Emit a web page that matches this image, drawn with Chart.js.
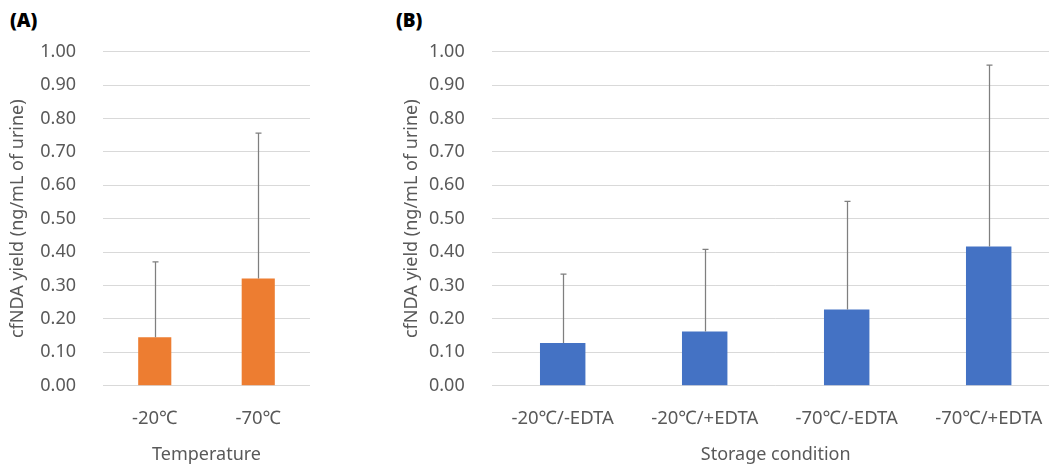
<!DOCTYPE html>
<html>
<head>
<meta charset="utf-8">
<script src="https://cdn.jsdelivr.net/npm/chart.js@4.4.1/dist/chart.umd.min.js"></script>
<style>
  html, body { margin: 0; padding: 0; background: #fff; width: 1049px; height: 465px; overflow: hidden; position: relative; }
  canvas { position: absolute; top: 0; }
  #cA { left: 0; }
  #cB { left: 380px; }
  .panel { position: absolute; top: 7px; font-family: 'Open Sans', 'Noto Sans', sans-serif; font-weight: 800; font-size: 19px; color: #000; }
</style>
</head>
<body>
<div class="panel" style="left:10px;">(A)</div>
<div class="panel" style="left:396px;">(B)</div>
<canvas id="cA" width="340" height="465"></canvas>
<canvas id="cB" width="700" height="465"></canvas>
<script>
// ---- Data ----
const categoriesA = ['-20℃', '-70℃'];
const meansA = [0.145, 0.321];
const sdA = [0.226, 0.435];

const categoriesB = ['-20℃/-EDTA', '-20℃/+EDTA', '-70℃/-EDTA', '-70℃/+EDTA'];
const meansB = [0.128, 0.162, 0.228, 0.417];
const sdB = [0.206, 0.246, 0.324, 0.543];

const yTicks = [0, 0.1, 0.2, 0.3, 0.4, 0.5, 0.6, 0.7, 0.8, 0.9, 1.0];

const yTitle = 'cfNDA yield (ng/mL of urine)';
const xTitleA = 'Temperature';
const xTitleB = 'Storage condition';

const FONT = "'Noto Sans', 'Noto Sans CJK KR', sans-serif";
const TXT = '#595959';

const errorBars = {
  id: 'errorBars',
  afterDatasetsDraw(chart) {
    const ctx = chart.ctx;
    const yScale = chart.scales.y;
    chart.data.datasets.forEach((ds, di) => {
      const meta = chart.getDatasetMeta(di);
      meta.data.forEach((bar, i) => {
        const top = yScale.getPixelForValue(ds.data[i] + ds.sd[i]);
        const x = Math.round(bar.x) + 0.5;
        ctx.save();
        ctx.strokeStyle = '#7f7f7f';
        ctx.lineWidth = 1.25;
        ctx.beginPath();
        ctx.moveTo(x, bar.y);
        ctx.lineTo(x, top);
        ctx.moveTo(x - 3, top);
        ctx.lineTo(x + 3, top);
        ctx.stroke();
        ctx.restore();
      });
    });
  }
};

function makeChart(id, labels, means, sds, color, xTitle, yWidth, yTitlePad, padRight) {
  return new Chart(document.getElementById(id), {
    type: 'bar',
    data: {
      labels: labels,
      datasets: [{
        data: means,
        sd: sds,
        backgroundColor: color,
        borderWidth: 0,
        categoryPercentage: 1.0,
        barPercentage: 0.32
      }]
    },
    options: {
      responsive: false,
      animation: false,
      devicePixelRatio: 1,
      layout: { padding: { top: 51.7, bottom: 0, left: 0, right: padRight } },
      plugins: { legend: { display: false }, tooltip: { enabled: false } },
      scales: {
        x: {
          offset: true,
          grid: { display: false, drawTicks: false },
          border: { display: false },
          ticks: { color: TXT, font: { family: FONT, size: 18.5 }, padding: 21.5, maxRotation: 0, autoSkip: false },
          title: { display: true, text: xTitle, color: TXT, font: { family: FONT, size: 18 }, padding: { top: 0, bottom: -1 } },
          afterFit(s) { s.height = 79.3; }
        },
        y: {
          min: 0, max: 1,
          afterBuildTicks(s) { s.ticks = yTicks.map(v => ({ value: v })); },
          grid: { color: '#d9d9d9', lineWidth: 1, drawTicks: false },
          border: { display: false },
          ticks: { color: TXT, font: { family: FONT, size: 18 }, padding: 27, callback: v => Number(v).toFixed(2) },
          title: { display: true, text: yTitle, color: TXT, font: { family: FONT, size: 18 }, padding: { top: yTitlePad, bottom: 0 } },
          afterFit(s) { s.width = yWidth; }
        }
      }
    },
    plugins: [errorBars]
  });
}

makeChart('cA', categoriesA, meansA, sdA, '#ED7D31', xTitleA, 103, 7, 30);
makeChart('cB', categoriesB, meansB, sdB, '#4472C4', xTitleB, 111.7, 21, 20.3);
</script>
</body>
</html>
